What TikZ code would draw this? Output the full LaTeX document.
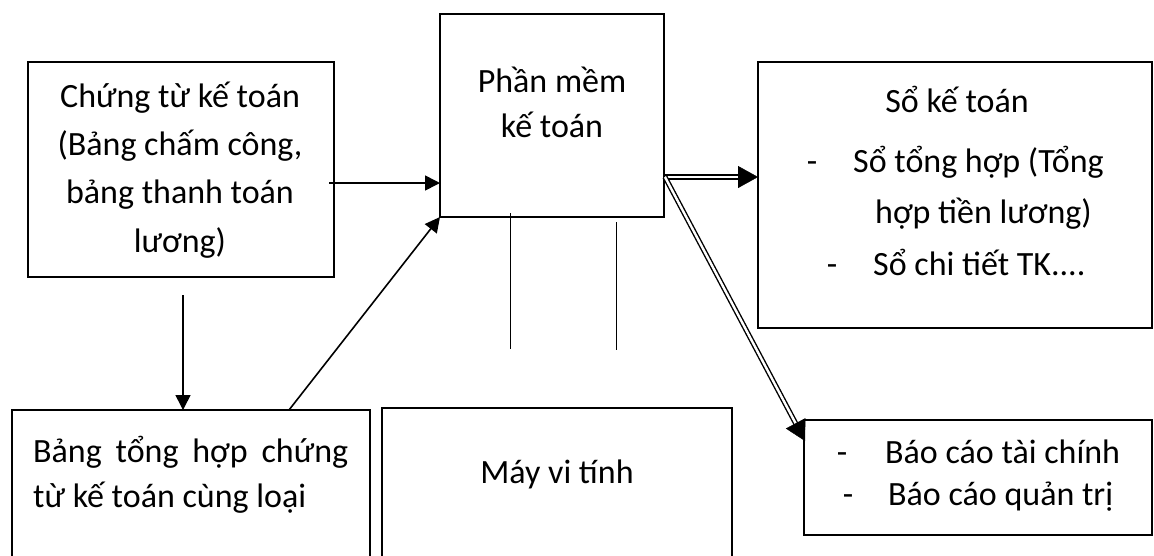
\documentclass[tikz,border=0pt]{standalone}
\usepackage{fontspec}
\setmainfont{Carlito}
\usetikzlibrary{arrows.meta,calc}
\begin{document}
\begin{tikzpicture}[x=1pt,y=-1pt,
  box/.style={draw, line width=1.6pt, inner sep=0pt, outer sep=0pt},
  arr/.style={line width=1.6pt, -{Triangle[length=15pt,width=15pt]}},
  dbl/.style={double, double distance=2.4pt, line width=1.4pt},
  tipl/.style={line width=0.4pt, -{Triangle[length=20pt,width=22pt]}},
  thin/.style={line width=0.8pt},
  txt/.style={font=\fontsize{34}{48}\selectfont, inner sep=0pt, anchor=base}]
\clip (0,0) rectangle (1154,555);
\fill[white] (0,0) rectangle (1154,555);
% boxes
\node[box, minimum width=306pt, minimum height=215pt] (A) at (181,169.5) {};
\node[box, minimum width=224pt, minimum height=203pt] (P) at (552,115.5) {};
\node[box, minimum width=394pt, minimum height=266pt] (S) at (955,195) {};
\node[box, minimum width=358pt, minimum height=170pt] (B) at (191,495) {};
\node[box, minimum width=350pt, minimum height=170pt] (M) at (557,493) {};
\node[box, minimum width=348pt, minimum height=115pt] (R) at (978,477.5) {};
% texts
\node[txt] (a1) at (180,107) {Chứng từ kế toán};
\node[txt] (a2) at (180,155) {(Bảng chấm công,};
\node[txt] (a3) at (180,203) {bảng thanh toán};
\node[txt] (a4) at (180,252) {lương)};
\node[txt] (p1) at (552,92) {Phần mềm};
\node[txt] (p2) at (552,137) {kế toán};
\node[txt] (m1) at (557,483) {Máy vi tính};
\node[txt, anchor=base west] (b1) at (33,462) {\makebox[315pt][s]{Bảng tổng hợp chứng}};
\node[txt, anchor=base west] (b2) at (33,507) {từ kế toán cùng loại};
\node[txt] (s1) at (957,112) {Sổ kế toán};
\node[txt] (s2d) at (812,172) {-};
\node[txt, anchor=base west] (s2) at (853,172) {Sổ tổng hợp (Tổng};
\node[txt, anchor=base west] (s3) at (875,223) {hợp tiền lương)};
\node[txt] (s4d) at (832,275) {-};
\node[txt, anchor=base west] (s4) at (873,275) {Sổ chi tiết TK....};
\node[txt] (r1d) at (842,463) {-};
\node[txt, anchor=base west] (r1) at (885,463) {Báo cáo tài chính};
\node[txt] (r2d) at (848,505) {-};
\node[txt, anchor=base west] (r2) at (888,505) {Báo cáo quản trị};
% connectors
\coordinate (aout) at ([xshift=-5pt,yshift=-13.5pt]A.east);
\draw[arr] (aout) -- (P.west |- aout);
\coordinate (adown) at ([xshift=2pt,yshift=-18pt]A.south);
\draw[arr] (adown) -- (B.north -| adown);
\coordinate (bup) at ([xshift=98pt]B.north);
\draw[arr] (bup) -- (P.south west);
% thin vertical lines below software box
\draw[thin] ([xshift=-42pt,yshift=4pt]P.south) -- ([xshift=-42pt,yshift=-132pt]P.south);
\draw[thin] ([xshift=64pt,yshift=-5pt]P.south) -- ([xshift=64pt,yshift=-133pt]P.south);
% double arrows
\coordinate (o) at ([xshift=1pt,yshift=-61.5pt]P.east);
\coordinate (st) at (S.west |- o);
\coordinate (rt) at ([xshift=1pt,yshift=-21pt]R.north west);
\draw[dbl] (o) -- ($(st)!17pt!(o)$);
\draw[tipl] ($(st)!20pt!(o)$) -- (st);
\draw[dbl] (o) -- ($(rt)!17pt!(o)$);
\draw[tipl] ($(rt)!20pt!(o)$) -- (rt);
\end{tikzpicture}
\end{document}
